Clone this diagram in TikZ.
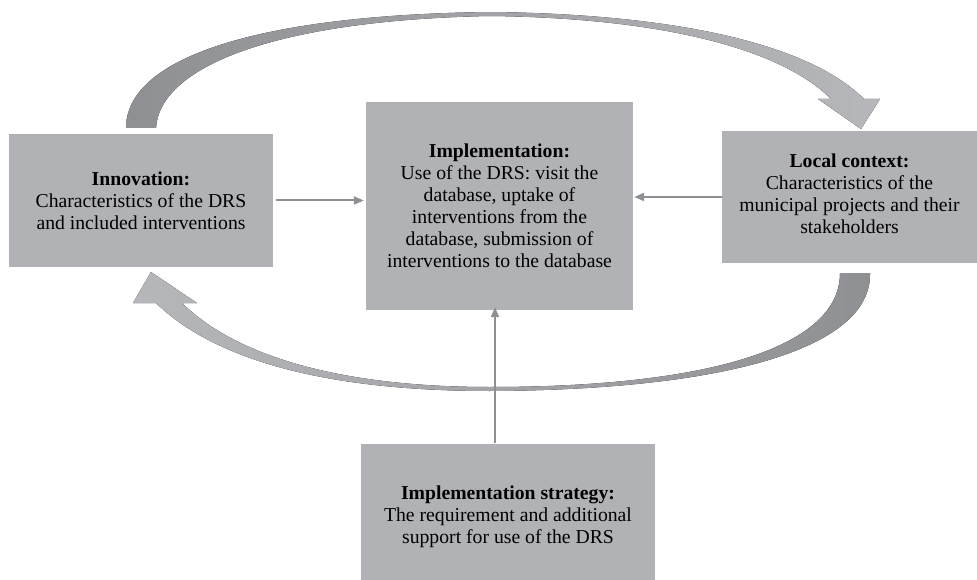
\documentclass[tikz,border=0pt]{standalone}
\usepackage{fontspec}
\setmainfont{Liberation Serif}
\usetikzlibrary{arrows.meta}
\definecolor{boxgray}{RGB}{177,178,181}
\definecolor{linegray}{RGB}{142,143,147}
\definecolor{darkarc}{RGB}{143,144,147}
\definecolor{lightarc}{RGB}{182,183,186}
\tikzset{
  block/.style={rectangle, fill=boxgray, draw=none, align=center, inner sep=0pt,
    font=\fontsize{19.7}{22}\selectfont},
  thinarrow/.style={draw=linegray, line width=2pt, -{Triangle[length=10pt,width=8pt]}},
}
\begin{document}
\begin{tikzpicture}[x=1pt,y=-1pt]
\useasboundingbox (0,0) rectangle (977,580);
% big curved arrows
\fill[left color=darkarc, right color=lightarc]
  (126,128) .. controls (126,60) and (250,15) .. (490,12)
  .. controls (680,14) and (810,45) .. (864,99)
  -- (880,99) -- (861,129) -- (818,99) -- (831,99)
  .. controls (780,48) and (660,18) .. (490,16)
  .. controls (280,20) and (160,65) .. (156,128) -- cycle;
\fill[left color=lightarc, right color=darkarc]
  (151,272) -- (197,303) -- (182,303)
  .. controls (240,360) and (350,387) .. (490,387)
  .. controls (700,387) and (840,350) .. (840,273)
  -- (870,273)
  .. controls (872,350) and (720,390) .. (490,391)
  .. controls (340,391) and (220,365) .. (156,303)
  -- (133,303) -- cycle;
% boxes
\node[block, minimum width=264pt, minimum height=133pt] (inn) at (141,200.5)
  {\textbf{Innovation:}\\Characteristics of the DRS\\and included interventions};
\node[block, minimum width=267pt, minimum height=208pt] (impl) at (499.5,206)
  {\textbf{Implementation:}\\Use of the DRS: visit the\\database, uptake of\\interventions from the\\database, submission of\\interventions to the database};
\node[block, minimum width=255pt, minimum height=132pt] (loc) at (849.5,197) {};
\node[block, anchor=center] at ([yshift=3pt]loc.center)
  {\textbf{Local context:}\\Characteristics of the\\municipal projects and their\\stakeholders};
\node[block, minimum width=294pt, minimum height=146pt] (strat) at (508,517)
  {\textbf{Implementation strategy:}\\The requirement and additional\\support for use of the DRS};
% thin arrows
\draw[thinarrow] ([xshift=3pt]inn.east) -- ([xshift=-2pt]inn.east -| impl.west);
\draw[thinarrow] (loc.west) -- ([xshift=1pt]loc.west -| impl.east);
\coordinate (sv) at ([xshift=-13pt,yshift=1pt]strat.north);
\draw[thinarrow] (sv) -- ([yshift=3pt]sv |- impl.south);
\end{tikzpicture}
\end{document}
